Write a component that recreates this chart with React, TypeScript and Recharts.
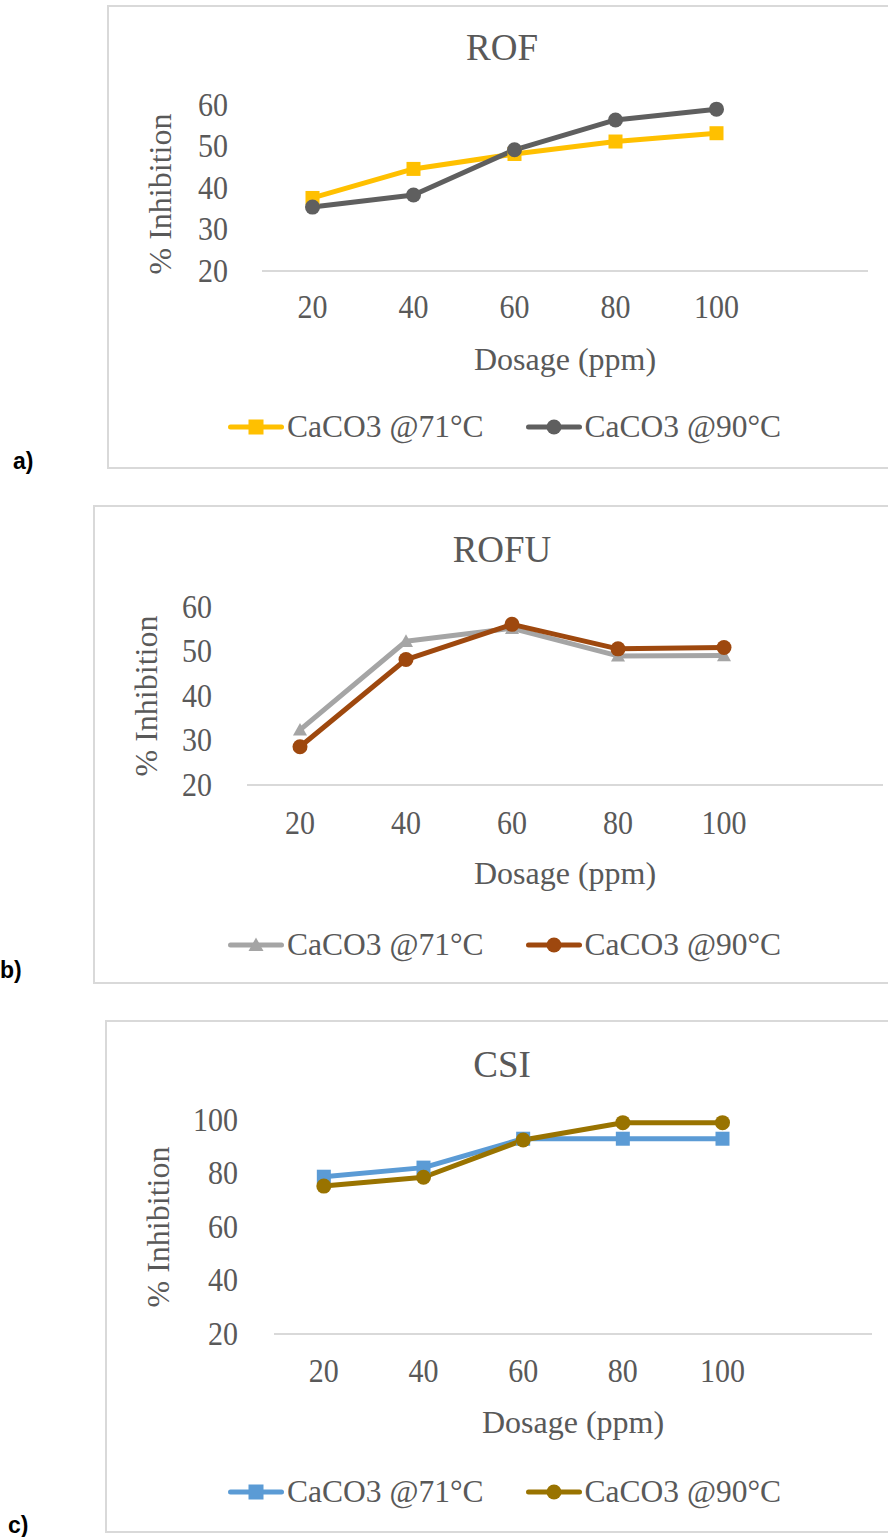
import React from 'react';
import { LineChart, Line, XAxis, YAxis, Label } from 'recharts';

// dosage categories (ppm)
const dosages = [20, 40, 60, 80, 100];

// % inhibition
const rof71 = [37.6, 44.6, 48.2, 51.2, 53.2];
const rof90 = [35.4, 38.3, 49.2, 56.4, 59.0];
const rofu71 = [32.4, 52.3, 55.2, 49.0, 49.1];
const rofu90 = [28.6, 48.2, 56.1, 50.6, 50.9];
const csi71 = [78.8, 82.2, 93.0, 93.0, 93.0];
const csi90 = [75.3, 78.6, 92.5, 99.0, 99.0];

const rofTicks = [20, 30, 40, 50, 60];
const csiTicks = [20, 40, 60, 80, 100];

const seriesNames = ['CaCO3 @71°C', 'CaCO3 @90°C'];

const FONT = "'Liberation Serif', 'Times New Roman', serif";
const TEXT = '#595959';
const GRID = '#d9d9d9';

type Shape = 'square' | 'circle' | 'triangle';

const Marker = ({ shape, cx, cy, color, size }: { shape: Shape; cx: number; cy: number; color: string; size: number }) => {
  if (shape === 'square') {
    return <rect x={cx - size / 2} y={cy - size / 2} width={size} height={size} fill={color} />;
  }
  if (shape === 'triangle') {
    const h = size * 0.9;
    return (
      <polygon
        points={`${cx},${cy - h * 0.55} ${cx + size / 2},${cy + h * 0.45} ${cx - size / 2},${cy + h * 0.45}`}
        fill={color}
      />
    );
  }
  return <circle cx={cx} cy={cy} r={size / 2} fill={color} />;
};

interface PanelProps {
  tag: string;
  title: string;
  values71: number[];
  values90: number[];
  colors: [string, string];
  shapes: [Shape, Shape];
  yTicks: number[];
  frame: { left: number; top: number; width: number; height: number };
  margin: { top: number; right: number; bottom: number; left: number };
  yTickGap: number;
  xTickGap: number;
  yLabelX: number;
  yLabelDy: number;
  titleY: number;
  legendY: number;
  tagPos: { left: number; top: number };
}

// tick digits in the source are drawn a little taller than the font's own proportions
const TickText = ({ x, y, anchor, value }: { x: number; y: number; anchor: 'end' | 'middle'; value: number }) => (
  <g transform={`translate(${x},${y}) scale(1,1.1)`}>
    <text x={0} y={0} textAnchor={anchor} dominantBaseline="central" fill={TEXT} fontSize={30} fontFamily={FONT}>
      {value}
    </text>
  </g>
);

const Panel: React.FC<PanelProps> = (p) => {
  const rows = dosages.map((d, i) => ({ dosage: d, v71: p.values71[i], v90: p.values90[i] }));

  const YTick = (t: any) => <TickText x={t.x} y={t.y} anchor="end" value={t.payload.value} />;
  const XTick = (t: any) => <TickText x={t.x} y={t.y} anchor="middle" value={t.payload.value} />;

  const dot = (shape: Shape, color: string, size: number) => (props: any) => (
    <Marker key={props.index} shape={shape} cx={props.cx} cy={props.cy} color={color} size={size} />
  );

  return (
    <>
      <div
        style={{
          position: 'absolute',
          left: p.frame.left,
          top: p.frame.top,
          width: p.frame.width,
          height: p.frame.height,
          border: `2px solid ${GRID}`,
          boxSizing: 'border-box',
        }}
      />
      <svg
        style={{ position: 'absolute', left: p.frame.left, top: p.frame.top }}
        width={p.frame.width}
        height={80}
      >
        <text x={p.frame.width / 2} y={p.titleY} textAnchor="middle" fill={TEXT} fontSize={37} fontFamily={FONT}>
          {p.title}
        </text>
      </svg>
      <div style={{ position: 'absolute', left: 0, top: p.frame.top }}>
        <LineChart width={888} height={p.frame.height} data={rows} margin={p.margin}>
          <XAxis
            dataKey="dosage"
            type="number"
            domain={[10, 130]}
            ticks={dosages}
            interval={0}
            axisLine={{ stroke: GRID, strokeWidth: 2 }}
            tickLine={false}
            tickSize={0}
            tickMargin={p.xTickGap}
            height={30}
            tick={XTick}
          >
            <Label
              content={(lp: any) => {
                const vb = lp.viewBox;
                return (
                  <text x={vb.x + vb.width / 2} y={vb.y + 99} textAnchor="middle" fill={TEXT} fontSize={32} fontFamily={FONT}>
                    Dosage (ppm)
                  </text>
                );
              }}
            />
          </XAxis>
          <YAxis
            type="number"
            domain={[p.yTicks[0], p.yTicks[p.yTicks.length - 1]]}
            ticks={p.yTicks}
            interval={0}
            axisLine={false}
            tickLine={false}
            tickSize={0}
            tickMargin={p.yTickGap}
            width={60}
            tick={YTick}
          >
            <Label
              content={(lp: any) => {
                const vb = lp.viewBox;
                const cy = vb.y + vb.height / 2 + p.yLabelDy;
                return (
                  <text
                    x={p.yLabelX}
                    y={cy}
                    transform={`rotate(-90 ${p.yLabelX} ${cy})`}
                    textAnchor="middle"
                    dominantBaseline="central"
                    fill={TEXT}
                    fontSize={32}
                    fontFamily={FONT}
                  >
                    % Inhibition
                  </text>
                );
              }}
            />
          </YAxis>
          <Line
            type="linear"
            dataKey="v71"
            name={seriesNames[0]}
            stroke={p.colors[0]}
            strokeWidth={5}
            strokeLinejoin="round"
            dot={dot(p.shapes[0], p.colors[0], 14)}
            isAnimationActive={false}
          />
          <Line
            type="linear"
            dataKey="v90"
            name={seriesNames[1]}
            stroke={p.colors[1]}
            strokeWidth={5}
            strokeLinejoin="round"
            dot={dot(p.shapes[1], p.colors[1], 15)}
            isAnimationActive={false}
          />
        </LineChart>
      </div>
      <div
        style={{
          position: 'absolute',
          left: 228,
          top: p.legendY - 20,
          height: 40,
          display: 'flex',
          alignItems: 'center',
          whiteSpace: 'nowrap',
        }}
      >
        {seriesNames.map((name, i) => (
          <div key={name} style={{ display: 'flex', alignItems: 'center', marginLeft: i === 0 ? 0 : 42 }}>
            <svg width={56} height={20}>
              <line x1={2.5} y1={10} x2={53.5} y2={10} stroke={p.colors[i]} strokeWidth={5} strokeLinecap="round" />
              <Marker shape={p.shapes[i]} cx={28} cy={10} color={p.colors[i]} size={15} />
            </svg>
            <span style={{ marginLeft: 3, fontFamily: FONT, fontSize: 31.5, color: TEXT, lineHeight: '40px' }}>{name}</span>
          </div>
        ))}
      </div>
      <div
        style={{
          position: 'absolute',
          left: p.tagPos.left,
          top: p.tagPos.top,
          fontFamily: "'Liberation Sans', Arial, sans-serif",
          fontWeight: 'bold',
          fontSize: 23,
          lineHeight: 1,
          color: '#000',
        }}
      >
        {p.tag}
      </div>
    </>
  );
};

export default function App() {
  return (
    <div
      style={{
        position: 'absolute',
        left: 0,
        top: 0,
        width: 888,
        height: 1537,
        overflow: 'hidden',
        background: '#fff',
      }}
    >
      <Panel
        tag="a)"
        title="ROF"
        values71={rof71}
        values90={rof90}
        colors={['#FFC000', '#5f5f5f']}
        shapes={['square', 'circle']}
        yTicks={rofTicks}
        frame={{ left: 107, top: 5, width: 790, height: 464 }}
        margin={{ top: 100, right: 20, bottom: 168, left: 202 }}
        yTickGap={34}
        xTickGap={36}
        yLabelX={160}
        yLabelDy={6}
        titleY={55}
        legendY={427}
        tagPos={{ left: 13, top: 450 }}
      />
      <Panel
        tag="b)"
        title="ROFU"
        values71={rofu71}
        values90={rofu90}
        colors={['#A5A5A5', '#9E480E']}
        shapes={['triangle', 'circle']}
        yTicks={rofTicks}
        frame={{ left: 93, top: 505, width: 818, height: 479 }}
        margin={{ top: 102, right: 5, bottom: 169, left: 187 }}
        yTickGap={35}
        xTickGap={38}
        yLabelX={146}
        yLabelDy={0}
        titleY={57}
        legendY={945}
        tagPos={{ left: 0, top: 959 }}
      />
      <Panel
        tag="c)"
        title="CSI"
        values71={csi71}
        values90={csi90}
        colors={['#5B9BD5', '#997300']}
        shapes={['square', 'circle']}
        yTicks={csiTicks}
        frame={{ left: 105, top: 1020, width: 794, height: 513 }}
        margin={{ top: 100, right: 16, bottom: 169, left: 214 }}
        yTickGap={36}
        xTickGap={37}
        yLabelX={158}
        yLabelDy={0}
        titleY={57}
        legendY={1492}
        tagPos={{ left: 8, top: 1514 }}
      />
    </div>
  );
}
